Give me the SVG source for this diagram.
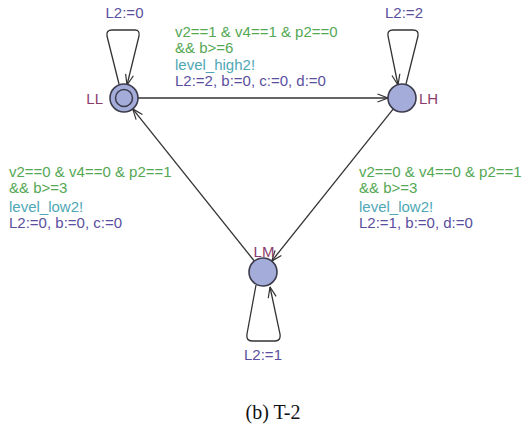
<svg xmlns="http://www.w3.org/2000/svg" width="526" height="427" viewBox="0 0 526 427">
<defs>
<marker id="arr" viewBox="0 0 12 10" refX="11.5" refY="5" markerWidth="12" markerHeight="10" markerUnits="userSpaceOnUse" orient="auto">
<polyline points="1,1 11.5,5 1,9" fill="none" stroke="#333" stroke-width="1.2"/>
</marker>
<style>
text{font-family:"Liberation Sans",Arial,sans-serif;font-size:15px}
.g{fill:#54a854}
.s{fill:#4fa7b5}
.u{fill:#5a4f9e}
.n{fill:#8a3d6c}
.node{fill:#a4acd9;stroke:#3c3c4c;stroke-width:1.6}
.e{fill:none;stroke:#333;stroke-width:1.3;marker-end:url(#arr)}
.cap{font-family:"Liberation Serif","Times New Roman",serif;font-size:20px;fill:#111}
</style>
</defs>
<rect width="526" height="427" fill="#fff"/>
<g id="connectors">
<path class="e" d="M119,84 L107,36 Q106,30 112,30 L135,30 Q140,30 139,36 L127,85"/>
<path class="e" d="M406,84 L418,36 Q419,30 413,30 L393,30 Q387,30 388,36 L398,85"/>
<path class="e" d="M138,98 L388,98"/>
<path class="e" d="M254.3,261 L132.7,108.9"/>
<path class="e" d="M393.3,108.9 L271.7,261.1"/>
<path class="e" d="M256,285 L247,334 Q246,341 252,341 L275,341 Q281,341 280,334 L270,287"/>
</g>
<g id="LL">
<circle class="node" cx="124" cy="98" r="14"/>
<circle cx="124" cy="98" r="8.5" fill="none" stroke="#3c3c4c" stroke-width="1.5"/>
<text class="n" x="103" y="104" text-anchor="end">LL</text>
</g>
<g id="LH">
<circle class="node" cx="402" cy="98" r="14"/>
<text class="n" x="419" y="104">LH</text>
</g>
<g id="LM">
<circle class="node" cx="263" cy="272" r="14"/>
<text class="n" x="264" y="257" text-anchor="middle">LM</text>
</g>
<g id="labels">
<text class="u" x="124.5" y="18" text-anchor="middle">L2:=0</text>
<text class="u" x="404" y="18" text-anchor="middle">L2:=2</text>
<text class="u" x="263" y="360" text-anchor="middle">L2:=1</text>
<text class="g" x="175" y="37">v2==1 &amp; v4==1 &amp; p2==0</text>
<text class="g" x="175" y="53">&amp;&amp; b&gt;=6</text>
<text class="s" x="175" y="70">level_high2!</text>
<text class="u" x="175" y="86">L2:=2, b:=0, c:=0, d:=0</text>
<text class="g" x="9" y="177">v2==0 &amp; v4==0 &amp; p2==1</text>
<text class="g" x="9" y="193">&amp;&amp; b&gt;=3</text>
<text class="s" x="9" y="212">level_low2!</text>
<text class="u" x="9" y="228">L2:=0, b:=0, c:=0</text>
<text class="g" x="359" y="177">v2==0 &amp; v4==0 &amp; p2==1</text>
<text class="g" x="359" y="193">&amp;&amp; b&gt;=3</text>
<text class="s" x="359" y="212">level_low2!</text>
<text class="u" x="359" y="228">L2:=1, b:=0, d:=0</text>
</g>
<text class="cap" x="273" y="419" text-anchor="middle">(b) T-2</text>
</svg>
